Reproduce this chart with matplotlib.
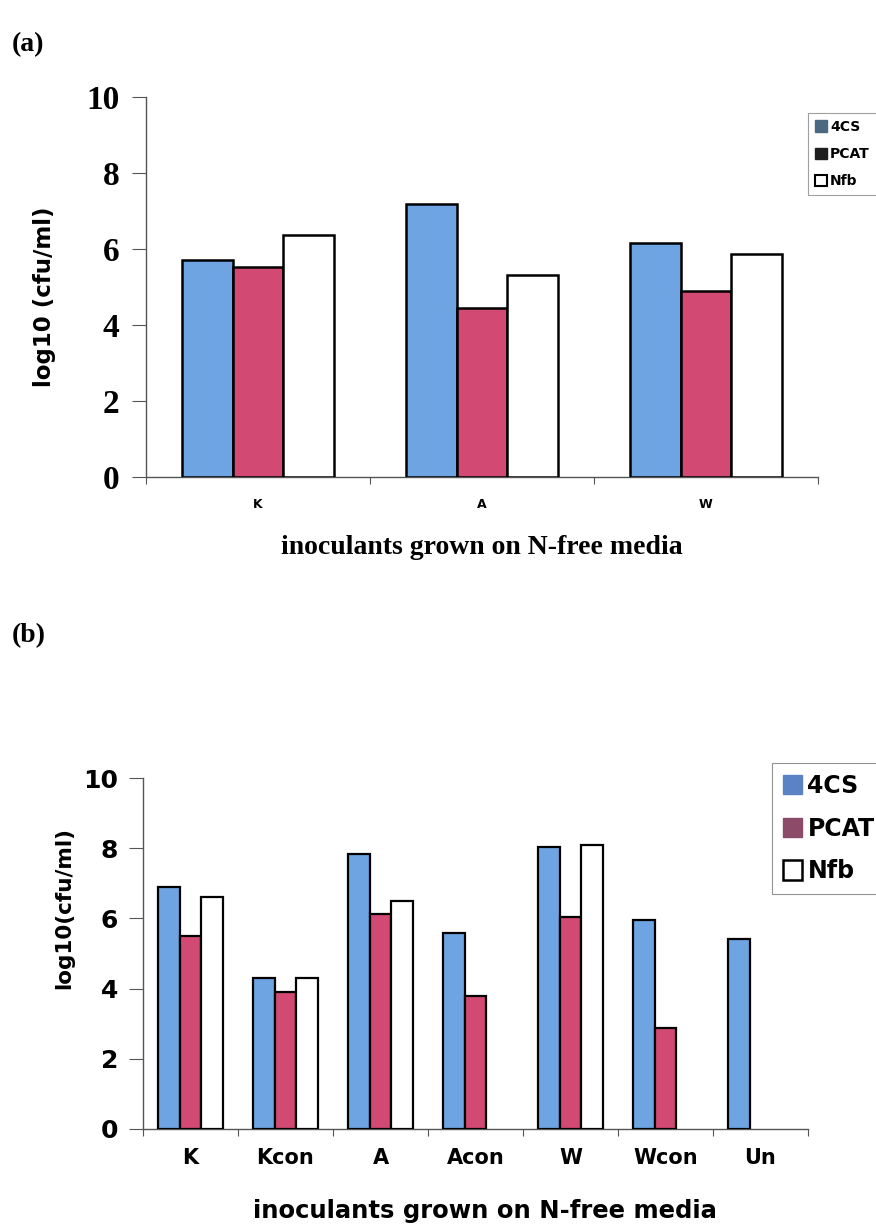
import matplotlib
matplotlib.use('Agg')
import matplotlib.pyplot as plt
from matplotlib.patches import Patch
import numpy as np

# panel (a): three inoculants
groups_a = ['K', 'A', 'W']
cs4_a = [5.71, 7.18, 6.16]
pcat_a = [5.53, 4.45, 4.90]
nfb_a = [6.37, 5.32, 5.87]

# panel (b): inoculants, their controls and uninoculated
groups_b = ['K', 'Kcon', 'A', 'Acon', 'W', 'Wcon', 'Un']
cs4_b = [6.90, 4.31, 7.84, 5.59, 8.04, 5.96, 5.42]
pcat_b = [5.50, 3.90, 6.13, 3.79, 6.05, 2.88, 0.0]
nfb_b = [6.62, 4.31, 6.50, 0.0, 8.10, 0.0, 0.0]

series_names = ['4CS', 'PCAT', 'Nfb']
y_ticks = [0, 2, 4, 6, 8, 10]

BLUE = '#6ea4e2'
RED = '#d24a73'
SERIF = 'Liberation Serif'
SANS = 'DejaVu Sans'

W, H = 876, 1228


def fx(px):
    return px / W


def fy(py):
    return 1 - py / H


def draw_bars(ax, groups, series, width=0.225, lw=1.6):
    x = np.arange(len(groups))
    colors = [BLUE, RED, 'white']
    for i, (vals, c) in enumerate(zip(series, colors)):
        vals = np.asarray(vals)
        keep = vals > 0
        ax.bar(x[keep] + (i - 1) * width, vals[keep], width, color=c,
               edgecolor='black', linewidth=lw, zorder=3)
    ax.set_xlim(-0.5, len(groups) - 0.5)
    ax.set_ylim(0, 10)
    ax.set_yticks(y_ticks)
    # category boundaries get the tick marks, labels sit at the centres
    ax.set_xticks(np.arange(len(groups) + 1) - 0.5)
    ax.set_xticklabels([])
    ax.set_xticks(x, minor=True)
    ax.set_xticklabels(groups, minor=True)
    for side in ['top', 'right']:
        ax.spines[side].set_visible(False)
    for side in ['left', 'bottom']:
        ax.spines[side].set_color('#555555')
        ax.spines[side].set_linewidth(1.0)
    ax.tick_params(axis='y', length=10, width=0.8, color='#555555')
    ax.tick_params(axis='x', which='major', length=5, width=0.8,
                   color='#555555', direction='out')
    ax.tick_params(axis='x', which='minor', length=0)
    return ax


def plot_panel_a(fig):
    ax = fig.add_axes([fx(146), fy(477), fx(818 - 146), (477 - 97) / H])
    draw_bars(ax, groups_a, [cs4_a, pcat_a, nfb_a], lw=1.8)
    ax.tick_params(axis='y', pad=9, labelsize=24)
    for lab in ax.get_yticklabels():
        lab.set_fontfamily(SERIF)
        lab.set_fontweight('bold')
    ax.tick_params(axis='x', which='minor', pad=15, labelsize=9)
    for lab in ax.get_xticklabels(minor=True):
        lab.set_fontfamily(SANS)
        lab.set_fontweight('bold')

    fig.text(fx(45), fy(297), 'log10 (cfu/ml)', rotation=90, ha='center',
             va='center', fontsize=16.5, fontweight='bold', family=SANS)
    fig.text(fx(482), fy(548), 'inoculants grown on N-free media',
             ha='center', va='center', fontsize=20, fontweight='bold',
             family=SERIF)
    fig.text(fx(12), fy(45), '(a)', ha='left', va='center', fontsize=20,
             fontweight='bold', family=SERIF)

    handles = [Patch(facecolor='#4c6983', edgecolor='#4c6983'),
               Patch(facecolor='#1e1e1e', edgecolor='#1e1e1e'),
               Patch(facecolor='white', edgecolor='black', linewidth=1.5)]
    leg = fig.legend(handles, series_names, loc='upper left',
                     bbox_to_anchor=(fx(808), fy(113)), frameon=True,
                     fancybox=False, edgecolor='#888888', fontsize=10,
                     handlelength=0.9, handleheight=0.9, handletextpad=0.2,
                     labelspacing=0.95, borderpad=0.5, borderaxespad=0)
    leg.get_frame().set_linewidth(0.8)
    for t in leg.get_texts():
        t.set_fontweight('bold')
    return ax


def plot_panel_b(fig):
    ax = fig.add_axes([fx(143), fy(1129), fx(808 - 143), (1129 - 778) / H])
    draw_bars(ax, groups_b, [cs4_b, pcat_b, nfb_b])
    ax.tick_params(axis='y', pad=8, labelsize=18)
    for lab in ax.get_yticklabels():
        lab.set_fontfamily(SANS)
        lab.set_fontweight('bold')
    ax.tick_params(axis='x', which='minor', pad=14, labelsize=15)
    for lab in ax.get_xticklabels(minor=True):
        lab.set_fontfamily(SANS)
        lab.set_fontweight('bold')

    fig.text(fx(64), fy(908), 'log10(cfu/ml)', rotation=90, ha='center',
             va='center', fontsize=15.5, fontweight='bold', family=SANS)
    fig.text(fx(485), fy(1211), 'inoculants grown on N-free media',
             ha='center', va='center', fontsize=17.5, fontweight='bold',
             family=SANS)
    fig.text(fx(12), fy(636), '(b)', ha='left', va='center', fontsize=20,
             fontweight='bold', family=SERIF)

    handles = [Patch(facecolor='#5c82c6', edgecolor='#5c82c6'),
               Patch(facecolor='#8c4b69', edgecolor='#8c4b69'),
               Patch(facecolor='white', edgecolor='black', linewidth=1.8)]
    leg = fig.legend(handles, series_names, loc='upper left',
                     bbox_to_anchor=(fx(772), fy(763)), frameon=True,
                     fancybox=False, edgecolor='#777777', fontsize=17,
                     handlelength=0.8, handleheight=0.9, handletextpad=0.25,
                     labelspacing=0.8, borderpad=0.45, borderaxespad=0)
    leg.get_frame().set_linewidth(0.8)
    for t in leg.get_texts():
        t.set_fontweight('bold')
    return ax


def main():
    fig = plt.figure(figsize=(W / 100, H / 100), dpi=100)
    plot_panel_a(fig)
    plot_panel_b(fig)
    fig.savefig('out.png', dpi=100)


if __name__ == '__main__':
    main()
